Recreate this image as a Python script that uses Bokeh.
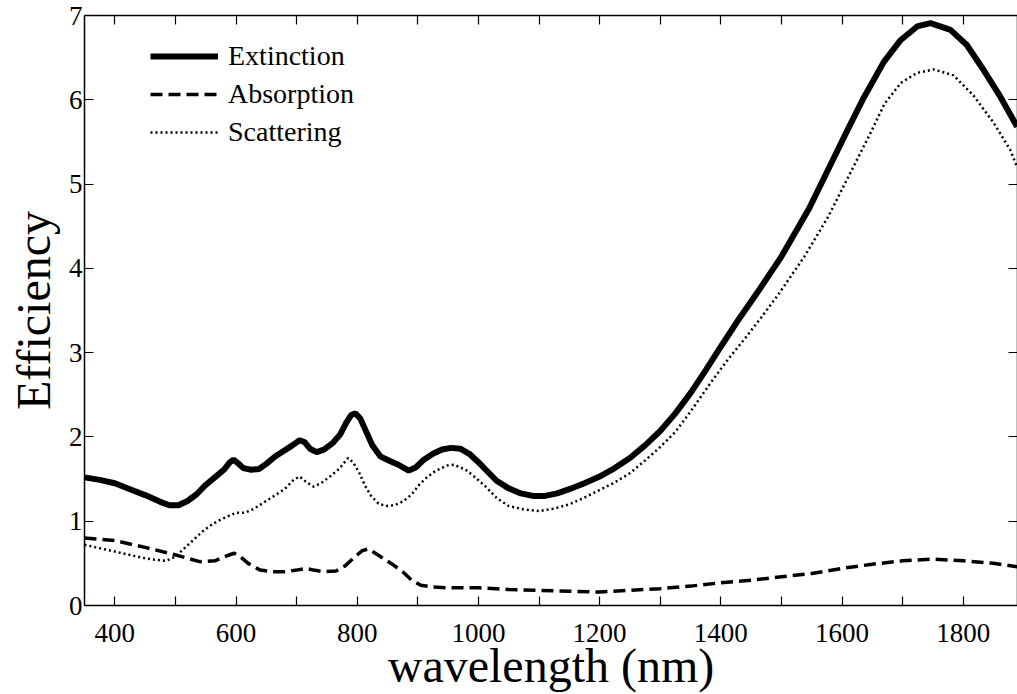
from bokeh.plotting import figure
from bokeh.models import FixedTicker, LinearAxis, Legend, LegendItem, Range1d
from bokeh.embed import file_html
from bokeh.resources import INLINE

# ---- data ----
ext_nm = [350, 375, 400, 425, 450, 475, 490, 505, 520, 535, 550, 565, 580, 590, 596, 603, 612, 625, 638, 650,
          665, 680, 693, 705, 713, 722, 733, 745, 760, 772, 782, 790, 797, 805, 815, 825, 838, 852, 868, 885,
          897, 910, 925, 940, 955, 970, 985, 1000, 1015, 1030, 1050, 1070, 1090, 1110, 1130, 1150, 1175, 1200,
          1225, 1250, 1275, 1300, 1325, 1350, 1375, 1400, 1430, 1460, 1500, 1545, 1577, 1609, 1634,
          1669, 1697, 1724, 1746, 1779, 1806, 1834, 1861, 1889]
ext_val = [1.52, 1.49, 1.45, 1.38, 1.31, 1.23, 1.19, 1.19, 1.24, 1.32, 1.43, 1.52, 1.61, 1.70, 1.73, 1.69, 1.63, 1.61, 1.62, 1.68,
           1.77, 1.84, 1.90, 1.96, 1.94, 1.86, 1.82, 1.85, 1.93, 2.03, 2.17, 2.26, 2.28, 2.22, 2.06, 1.90, 1.77, 1.72, 1.67, 1.60,
           1.64, 1.73, 1.80, 1.85, 1.87, 1.86, 1.80, 1.70, 1.59, 1.48, 1.39, 1.33, 1.30, 1.30, 1.33, 1.38, 1.45, 1.53,
           1.63, 1.75, 1.90, 2.07, 2.28, 2.52, 2.79, 3.07, 3.40, 3.71, 4.14, 4.70, 5.17, 5.64, 6.00,
           6.45, 6.71, 6.87, 6.91, 6.83, 6.65, 6.35, 6.04, 5.68]

abs_nm = [350, 400, 450, 500, 540, 565, 585, 597, 607, 620, 640, 660, 680, 700, 715, 728, 745, 765, 780, 795,
          808, 818, 830, 845, 860, 875, 890, 905, 925, 950, 1000, 1050, 1100, 1150, 1200, 1250, 1300, 1350,
          1400, 1450, 1500, 1550, 1600, 1650, 1700, 1750, 1800, 1850, 1889]
abs_val = [0.80, 0.77, 0.69, 0.60, 0.52, 0.53, 0.59, 0.62, 0.58, 0.50, 0.42, 0.40, 0.40, 0.42, 0.44, 0.42, 0.40, 0.41, 0.47, 0.57,
           0.65, 0.67, 0.62, 0.55, 0.48, 0.40, 0.30, 0.24, 0.22, 0.21, 0.21, 0.19, 0.18, 0.17, 0.16, 0.18, 0.20, 0.23,
           0.27, 0.30, 0.34, 0.38, 0.44, 0.49, 0.53, 0.55, 0.53, 0.50, 0.46]

sca_nm = [350, 375, 400, 425, 450, 470, 485, 500, 515, 530, 545, 560, 575, 590, 600, 615, 630, 650, 665, 680,
          695, 705, 715, 728, 740, 755, 770, 785, 793, 803, 813, 823, 835, 848, 862, 877, 890, 902, 915, 930,
          948, 960, 979, 995, 1012, 1031, 1050, 1075, 1100, 1125, 1150, 1175, 1200, 1225, 1250, 1275, 1300,
          1325, 1350, 1385, 1412, 1440, 1467, 1494, 1538, 1577, 1615, 1648, 1670, 1697, 1724, 1752, 1784,
          1817, 1850, 1878, 1889]
sca_val = [0.72, 0.68, 0.64, 0.60, 0.56, 0.54, 0.53, 0.58, 0.68, 0.78, 0.88, 0.96, 1.02, 1.07, 1.10, 1.10, 1.15, 1.24, 1.31, 1.38,
           1.49, 1.53, 1.47, 1.41, 1.45, 1.53, 1.62, 1.75, 1.70, 1.58, 1.42, 1.30, 1.21, 1.18, 1.19, 1.24, 1.32, 1.43, 1.52, 1.60,
           1.66, 1.67, 1.61, 1.52, 1.41, 1.27, 1.18, 1.14, 1.12, 1.15, 1.20, 1.28, 1.37, 1.46, 1.57, 1.72, 1.88,
           2.06, 2.30, 2.66, 2.92, 3.17, 3.42, 3.68, 4.14, 4.61, 5.15, 5.62, 5.95, 6.20, 6.32, 6.36, 6.29,
           6.05, 5.73, 5.40, 5.20]

x_major = [400, 600, 800, 1000, 1200, 1400, 1600, 1800]
x_minor = [500, 700, 900, 1100, 1300, 1500, 1700]
y_ticks = [0, 1, 2, 3, 4, 5, 6, 7]

FONT = "Liberation Serif"

p = figure(width=1017, height=694, output_backend="svg", toolbar_location=None,
           x_range=Range1d(350, 1889.6), y_range=Range1d(0, 7),
           min_border_left=84, min_border_right=0, min_border_top=15, min_border_bottom=0,
           x_axis_label="wavelength (nm)", y_axis_label="Efficiency")
p.grid.visible = False
p.outline_line_color = None
p.background_fill_color = "white"
p.border_fill_color = "white"

l_ext = p.line(ext_nm, ext_val, line_color="black", line_width=6)
l_abs = p.line(abs_nm, abs_val, line_color="black", line_width=3.5, line_dash="12 6")
l_sca = p.line(sca_nm, sca_val, line_color="black", line_width=2.5, line_dash="2 3")

def style_axis(ax, labels=True):
    ax.axis_line_color = "black"
    ax.axis_line_width = 1.5
    ax.major_tick_in = 9
    ax.major_tick_out = 0
    ax.minor_tick_in = 9
    ax.minor_tick_out = 0
    ax.major_tick_line_color = "black"
    ax.minor_tick_line_color = "black"
    ax.major_tick_line_width = 1.2
    ax.minor_tick_line_width = 1.2
    ax.major_label_text_font = FONT
    ax.major_label_text_color = "black"
    ax.axis_label_text_font = FONT
    ax.axis_label_text_font_style = "normal"
    ax.axis_label_text_color = "black"
    ax.major_label_text_font_size = "27px"
    ax.axis_label_text_font_size = "48px"
    if not labels:
        ax.major_label_standoff = 0

xax = p.xaxis[0]
xax.ticker = FixedTicker(ticks=x_major, minor_ticks=x_minor)
style_axis(xax)
xax.major_label_standoff = 18
xax.axis_label_standoff = -6

yax = p.yaxis[0]
yax.ticker = FixedTicker(ticks=y_ticks, minor_ticks=[])
style_axis(yax)
yax.major_label_standoff = 2
yax.axis_label_standoff = 6

# top and right: tick marks only (drawn as minor ticks so no labels exist)
top = LinearAxis(ticker=FixedTicker(ticks=[], minor_ticks=sorted(x_major + x_minor)))
style_axis(top, labels=False)
p.add_layout(top, "above")

right = LinearAxis(ticker=FixedTicker(ticks=[], minor_ticks=y_ticks))
style_axis(right, labels=False)
p.add_layout(right, "right")

legend = Legend(items=[LegendItem(label="Extinction", renderers=[l_ext]),
                       LegendItem(label="Absorption", renderers=[l_abs]),
                       LegendItem(label="Scattering", renderers=[l_sca])],
                location=(66, 454))
legend.border_line_color = None
legend.background_fill_alpha = 0
legend.padding = 0
legend.margin = 0
legend.spacing = 0
legend.glyph_width = 68
legend.glyph_height = 38
legend.label_height = 38
legend.label_standoff = 10
legend.label_text_font = FONT
legend.label_text_font_size = "28px"
legend.label_text_color = "black"
p.add_layout(legend)

open("out.html", "w").write(file_html(p, INLINE))
